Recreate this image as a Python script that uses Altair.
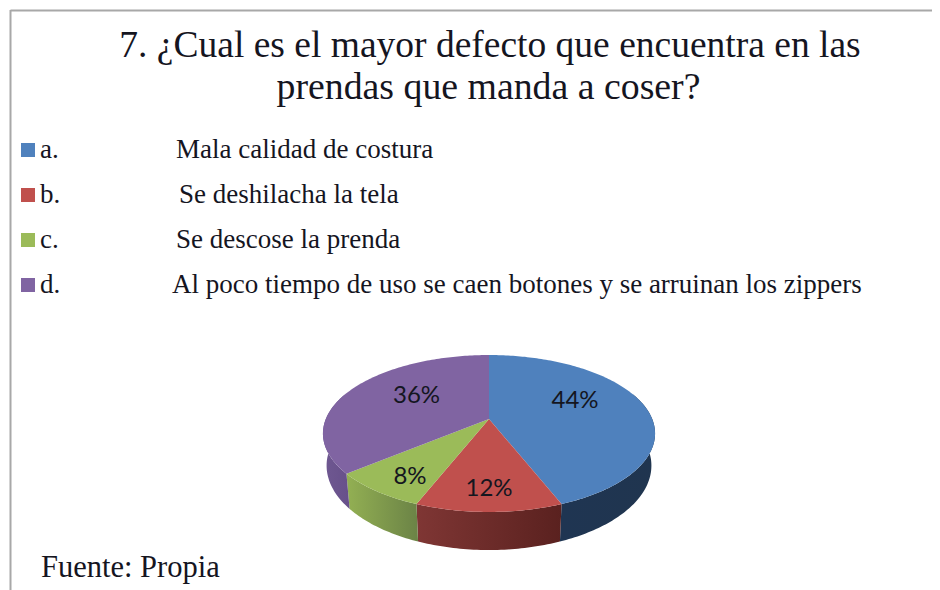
import math
import altair as alt

# Data
categories = ["a.", "b.", "c.", "d."]
descriptions = [
    "Mala calidad de costura",
    "Se deshilacha la tela",
    "Se descose la prenda",
    "Al poco tiempo de uso se caen botones y se arruinan los zippers",
]
shares = [44, 12, 8, 36]
share_labels = ["44%", "12%", "8%", "36%"]
colors = ["#4f81bd", "#c0504d", "#9bbb59", "#8064a2"]
wall_from = ["#1f3552", "#7f3634", "#93b053", "#6f5891"]
wall_to = ["#20354f", "#5a211f", "#6b8346", "#67508a"]
title_lines = ["7. ¿Cual es el mayor defecto que encuentra en las",
               "prendas que manda a coser?"]
source = "Fuente: Propia"

# Perspective view of the unit pie, computed from the shares
P, K, D, NARROW = 0.1847, 0.4645, 0.19, 0.978


def rim(deg, drop=0.0):
    a = math.radians(deg)
    s = 1 / (1 + P * math.cos(a))
    w = NARROW if drop else 1.0
    return [math.sin(a) * s * w, (K * math.cos(a) - drop) * s]


def arc_degs(d0, d1):
    n = max(2, int(abs(d1 - d0)) + 1)
    return [d0 + (d1 - d0) * i / (n - 1) for i in range(n)]


def feature(ring, **props):
    ring = ring + [ring[0]]
    return {"type": "Feature", "properties": props,
            "geometry": {"type": "Polygon", "coordinates": [ring]}}


bounds = [0]
for v in shares:
    bounds.append(bounds[-1] + v * 3.6)

tops, walls = [], []
for i, cat in enumerate(categories):
    d0, d1 = bounds[i], bounds[i + 1]
    degs = arc_degs(d0, d1)
    tops.append(feature([[0, 0]] + [rim(d) for d in degs], cat=cat))
    w0, w1 = max(d0, 70), min(d1, 290)
    wd = arc_degs(w0, w1)
    walls.append(feature([rim(d) for d in wd] + [rim(d, D) for d in reversed(wd)], cat=cat))

proj = alt.Projection(type="identity", scale=163.2, translate=[481, 411], reflectY=True)
layers = []

# frame
FRAME = "#a8a8a8"
layers.append(alt.Chart(alt.Data(values=[{}])).mark_rule(color=FRAME, strokeWidth=2).encode(
    x=alt.value(2.5), x2=alt.value(924), y=alt.value(2.5)))
layers.append(alt.Chart(alt.Data(values=[{}])).mark_rule(color=FRAME, strokeWidth=2).encode(
    x=alt.value(2.5), y=alt.value(2), y2=alt.value(582)))

# side walls
for f, c0, c1 in zip(walls, wall_from, wall_to):
    grad = alt.LinearGradient(gradient="linear", x1=0, x2=1, y1=0, y2=0,
                              stops=[alt.GradientStop(color=c0, offset=0),
                                     alt.GradientStop(color=c1, offset=1)])
    layers.append(alt.Chart(alt.Data(values=[f])).mark_geoshape(fill=grad, stroke=None)
                  .project(**proj.to_dict()))

# top face
layers.append(alt.Chart(alt.Data(values=tops)).mark_geoshape(stroke=None).encode(
    fill=alt.Fill("properties.cat:N", scale=alt.Scale(domain=categories, range=colors), legend=None)
).project(**proj.to_dict()))

SERIF = "Liberation Serif"
INK = "#15151f"


def text(s, x, y, size, font=SERIF, align="left", color=INK):
    return alt.Chart(alt.Data(values=[{"t": s}])).mark_text(
        font=font, fontSize=size, align=align, baseline="alphabetic", color=color
    ).encode(x=alt.value(x), y=alt.value(y), text="t:N")


# title
layers.append(text(title_lines[0], 482, 49, 37.5, align="center"))
layers.append(text(title_lines[1], 480.5, 91, 37.8, align="center"))

# legend
ys = [150, 195, 240, 285]
desc_x = [168, 171, 168, 164]
for i in range(4):
    layers.append(alt.Chart(alt.Data(values=[{"c": categories[i]}])).mark_square(
        size=196, color=colors[i], opacity=1).encode(x=alt.value(20), y=alt.value(ys[i] - 8)))
    layers.append(text(categories[i], 32, ys[i], 27))
    layers.append(text(descriptions[i], desc_x[i], ys[i], 27))

# pie labels
lab_pos = [(567, 400), (481, 488), (402, 476), (408.5, 395)]
for s, (x, y) in zip(share_labels, lab_pos):
    layers.append(text(s, x, y, 24, font="Lato", align="center", color="#14161f"))

layers.append(text(source, 33, 569, 30.5))

chart = alt.layer(*layers).properties(
    width=924, height=582, padding=0, autosize=alt.AutoSizeParams(type="none")
).configure_view(stroke=None)

chart.save("out.html", embed_options={"renderer": "svg", "actions": False})
